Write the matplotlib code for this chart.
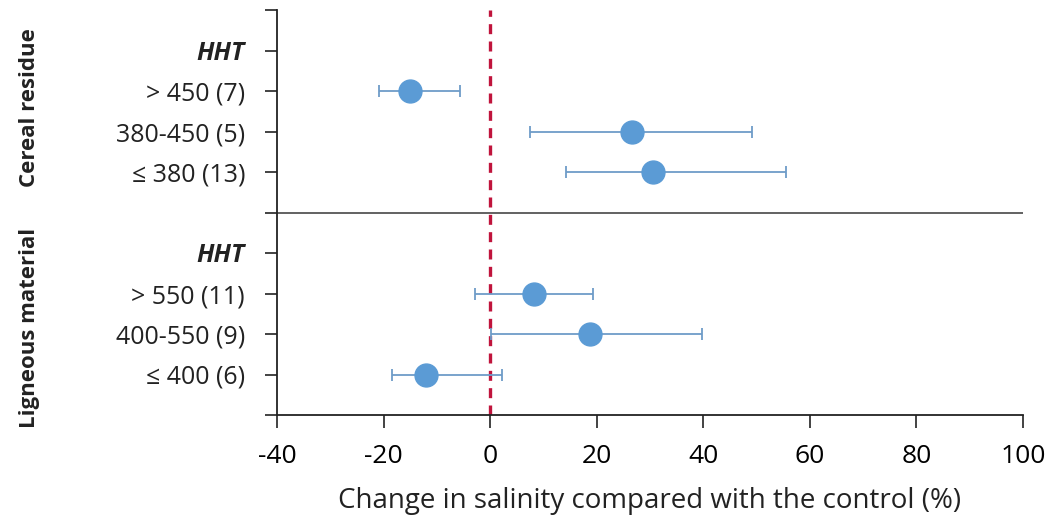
import matplotlib.pyplot as plt

plt.rcParams['font.family'] = ['Open Sans', 'DejaVu Sans']
plt.rcParams['axes.unicode_minus'] = False

# Data (top to bottom within each group)
labels = ['', 'HHT', '> 450 (7)', '380-450 (5)', '\u2264 380 (13)', '',
          'HHT', '> 550 (11)', '400-550 (9)', '\u2264 400 (6)', '']
cereal_mean = [-15.0, 26.6, 30.6]
cereal_low = [-20.9, 7.5, 14.2]
cereal_high = [-5.7, 49.1, 55.5]
ligneous_mean = [8.2, 18.7, -12.0]
ligneous_low = [-2.8, 0.2, -18.4]
ligneous_high = [19.3, 39.8, 2.2]

fig = plt.figure(figsize=(10.53, 5.27), dpi=100)
ax = fig.add_axes([277/1053, 1 - 415/527, 746/1053, 405/527])

n = len(labels) - 1
ypos = [n - i for i in range(len(labels))]  # 10 .. 0

means = cereal_mean + ligneous_mean
lows = cereal_low + ligneous_low
highs = cereal_high + ligneous_high
rows = [ypos[2], ypos[3], ypos[4], ypos[7], ypos[8], ypos[9]]
xerr = [[m - l for m, l in zip(means, lows)], [h - m for m, h in zip(means, highs)]]

ax.errorbar(means, rows, xerr=xerr, fmt='none', ecolor='#6E9CC8', elinewidth=1.3,
            capsize=4, capthick=1.3, zorder=2)
ax.plot(means, rows, 'o', color='#5B9BD5', markersize=16.5, zorder=3)

ax.axvline(0, color='#C0143C', linestyle=(0, (3, 2.2)), linewidth=2.4, zorder=1)
ax.axhline(ypos[5], color='#555555', linewidth=1.3, zorder=1)

ax.set_xlim(-40, 100)
ax.set_ylim(0, n)
ax.set_xticks(range(-40, 101, 20))
ax.set_yticks(ypos)
ax.set_yticklabels(labels, fontsize=18, color='#222222')
for t, lab in zip(ax.get_yticklabels(), labels):
    if lab == 'HHT':
        t.set_fontweight('bold')
        t.set_fontstyle('italic')
        t.set_fontsize(18)
ax.set_xticklabels([str(v) for v in range(-40, 101, 20)], fontsize=19)
ax.tick_params(axis='both', length=9, width=1.2, direction='out', color='#222222')
ax.tick_params(axis='y', pad=14)
ax.tick_params(axis='x', pad=12)
ax.spines['top'].set_visible(False)
ax.spines['right'].set_visible(False)
for s in ['left', 'bottom']:
    ax.spines[s].set_linewidth(1.3)
    ax.spines[s].set_color('#222222')

ax.set_xlabel('Change in salinity compared with the control (%)', fontsize=20,
              color='#222222', labelpad=13)

fig.text(30/1053, 1 - 108/527, 'Cereal residue', rotation=90, fontsize=16,
         fontweight='bold', ha='center', va='center', color='#222222')
fig.text(30/1053, 1 - 328/527, 'Ligneous material', rotation=90, fontsize=16,
         fontweight='bold', ha='center', va='center', color='#222222')

fig.savefig('out.png', dpi=100)
